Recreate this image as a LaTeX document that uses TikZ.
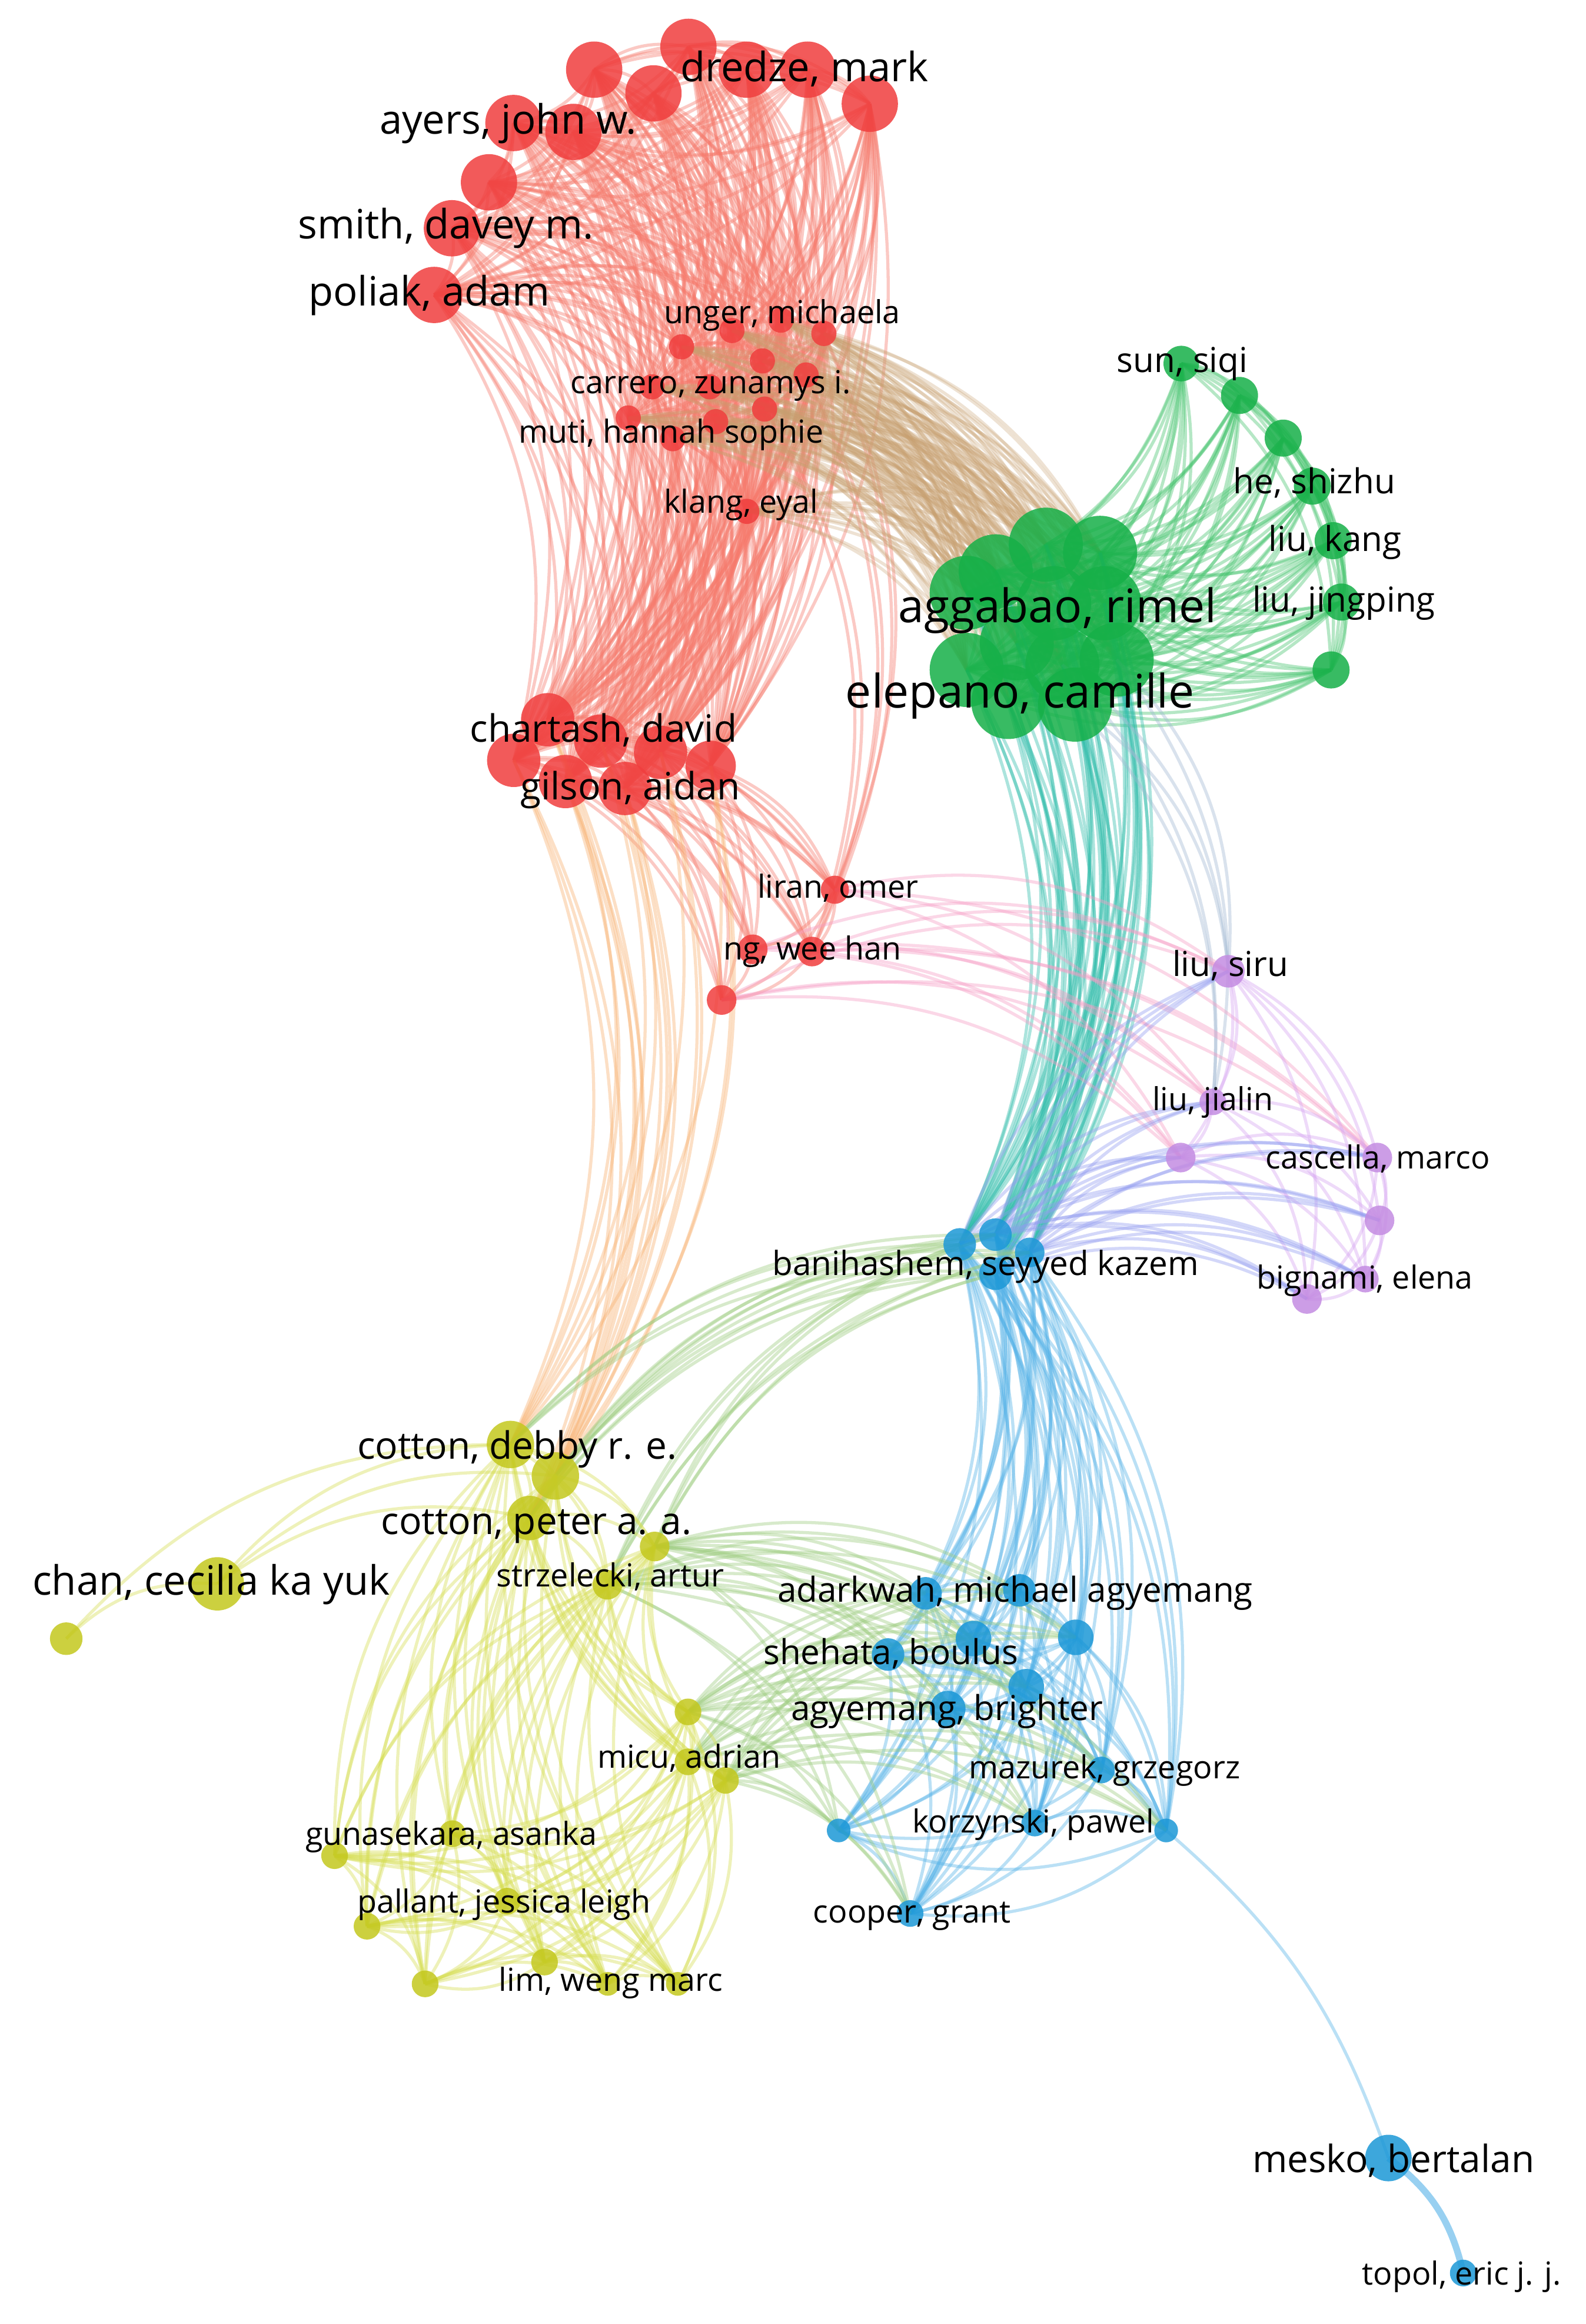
\documentclass[tikz,border=0pt]{standalone}
\usepackage{fontspec}
\setmainfont{Open Sans}
\pgfdeclarelayer{edgelayer}
\pgfsetlayers{edgelayer,main}
\definecolor{redN}{RGB}{240,62,62}
\definecolor{redE}{RGB}{246,122,108}
\definecolor{greenN}{RGB}{22,176,72}
\definecolor{greenE}{RGB}{70,196,110}
\definecolor{blueN}{RGB}{28,152,215}
\definecolor{blueE}{RGB}{84,178,232}
\definecolor{yellowN}{RGB}{196,200,30}
\definecolor{yellowE}{RGB}{214,222,80}
\definecolor{purpleN}{RGB}{196,140,226}
\definecolor{purpleE}{RGB}{214,164,242}
\definecolor{rgE}{RGB}{200,160,112}
\definecolor{gbE}{RGB}{46,188,170}
\definecolor{ryE}{RGB}{248,176,110}
\definecolor{rpE}{RGB}{246,156,196}
\definecolor{bpE}{RGB}{146,156,240}
\definecolor{ybE}{RGB}{156,204,126}
\definecolor{gpE}{RGB}{160,184,210}
\newcommand\lfA{\fontsize{21.4}{24}\selectfont}
\newcommand\lfB{\fontsize{23.2}{26}\selectfont}
\newcommand\lfBb{\fontsize{22.5}{25}\selectfont}
\newcommand\lfC{\fontsize{25.4}{28}\selectfont}
\newcommand\lfD{\fontsize{27.3}{30}\selectfont}
\newcommand\lfE{\fontsize{31.2}{34}\selectfont}
\newcommand\mkedges[3]{\foreach \na in #1{\foreach \nb in #2{\draw[edg,#3] (\na.center) to[bend left=24] (\nb.center);}}}
\newcommand\mkclique[2]{\foreach \na [count=\ci] in #1{\foreach \nb [count=\cj] in #1{\ifnum\cj>\ci\relax\draw[edg,#2] (\na.center) to[bend left=24] (\nb.center);\fi}}}
\def\RL{r1,r2,r3,r4,r5,r6,r7,r8,r9,r10,r11}
\def\SL{s1,s2,s3,s4,s5,s6,s7,s8,s9,s10,s11,s12,s13}
\def\CL{c1,c2,c3,c4,c5,c6,c7}
\def\LL{l1,l2,l3,l4}
\def\GL{G1,G2,G3,G4,G5,G6,G7,G8,G9,G10,G11,G12}
\def\gL{g1,g2,g3,g4,g5,g6,g7}
\def\PL{p1,p2,p3,p4,p5,p6,p7}
\def\BL{b1,b2,b3,b4}
\def\QL{q1,q2,q3,q4,q5,q6,q7,q8,q9,q10,q11,q12}
\def\YL{y1,y2,y3,y4,y5}
\def\WL{w1,w2,w3,w4,w5,w6,w7,w8,w9,w10,w11}
\tikzset{
  edg/.style={line width=2.1pt, draw opacity=0.4},
  nd/.style={circle, inner sep=0pt, draw=none, fill opacity=0.85},
  lab/.style={anchor=base west, inner sep=0pt, text=black}
}
\begin{document}
\begin{tikzpicture}[x=1pt,y=-1pt]
\useasboundingbox (0,0) rectangle (1070,1568);
% ---------------- nodes ----------------
\foreach \nn/\xx/\yy/\rr in {r1/401/47/19,r2/464.6/31.6/19,r3/441/63/19,r4/504/47/19,r5/545/47/19,r6/587/70/19,r7/346.5/83/19,r8/387/89/19,r9/330/123/19,r10/305/154/19,r11/293/199/19,
 s1/494/223/8.5,s2/527/216/8.5,s3/556/225/8.5,s4/460/234/8.5,s5/514.5/243.5/8.5,s6/544/253/8.5,s7/440/261/8.5,s8/479/261/8.5,s9/516/276/8.5,s10/424/282/8.5,s11/483/284.5/8.5,s12/454/296/8.5,s13/504/345/8.5,
 c1/369.6/485.6/18,c2/346.7/513/18,c3/405.5/500/18,c4/445.8/507.6/18,c5/479.6/516.7/17,c6/381.6/527.3/18,c7/421.8/532/18,
 l1/563.4/600.3/9.5,l2/508/640.5/10,l3/548/642/10,l4/487/674.7/10}
  \node[nd, fill=redN, minimum size=\rr*2pt] (\nn) at (\xx,\yy) {};
\foreach \nn/\xx/\yy/\rr in {G1/705.8/367.5/25,G2/742.4/373/25,G3/672/385.5/25,G4/711.4/407/25,G5/745.2/407/25,G6/652.4/400/25,G7/686.2/434/25,G8/652.4/452/25,G9/717/448.5/25,G10/753.6/445/25,G11/680.5/473.6/25,G12/725.5/475.4/25,
 g1/797.2/245.3/12,g2/836.5/266.8/12.5,g3/866/295.6/12.5,g4/885.7/328/12.5,g5/899.7/364.8/12.5,g6/905.3/406.2/12.5,g7/898.3/452/12.5}
  \node[nd, fill=greenN, minimum size=\rr*2pt] (\nn) at (\xx,\yy) {};
\foreach \nn/\xx/\yy/\rr in {p1/829/655.3/11,p2/818.5/743.4/9,p3/796.8/781/10,p4/929.5/781/10,p5/931/823.4/10,p6/921.4/863/9,p7/882/876.4/10}
  \node[nd, fill=purpleN, minimum size=\rr*2pt] (\nn) at (\xx,\yy) {};
\foreach \nn/\xx/\yy/\rr in {b1/647.7/839.6/11,b2/671.8/833/11,b3/694.9/845/10,b4/671.8/859.4/11,
 q1/624.6/1075/11,q2/688/1073/11,q3/726/1104.7/12,q4/657/1105.5/12,q5/599.3/1116.3/11,q6/692.6/1138/12,q7/639.6/1152.8/12,q8/743.3/1194.2/9,q9/698.3/1230/9,q10/787/1235/8,q11/566/1235/8,q12/614.2/1291/9,
 m1/937/1456/15.7,m2/987.5/1533.6/9}
  \node[nd, fill=blueN, minimum size=\rr*2pt] (\nn) at (\xx,\yy) {};
\foreach \nn/\xx/\yy/\rr in {y1/344.5/974.6/16,y2/374.8/995.8/16,y3/357.3/1024.2/15,y4/441.8/1043.4/10,y5/409.9/1069.2/10,ch/146.7/1068.6/18,y0/44.7/1105.6/11,
 w1/464.3/1155/9,w2/464.3/1188.7/9,w3/489.6/1201.2/9,w4/305.3/1237.2/9,w5/225.8/1252/9,w6/342.2/1282.7/9,w7/247.7/1299.6/9,w8/367.5/1323.8/9,w9/286.9/1338.5/9,w10/410.2/1338.5/8,w11/457.4/1338.5/8}
  \node[nd, fill=yellowN, minimum size=\rr*2pt] (\nn) at (\xx,\yy) {};
% ---------------- edges ----------------
\begin{pgfonlayer}{edgelayer}
\fill[white] (0,0) rectangle (1070,1568);
% red
\mkclique{\RL}{redE}
\mkedges{\RL}{\SL}{redE}
\mkclique{\SL}{redE}
\mkedges{\RL}{\CL}{redE}
\mkedges{\SL}{\CL}{redE}
\mkclique{\CL}{redE}
\mkedges{\CL}{\LL}{redE}
\mkclique{\LL}{redE}
\mkedges{{s3,s6,s9}}{{l1,l3}}{redE}
% red-green
\mkedges{\SL}{\GL}{rgE,draw opacity=0.3}
% green
\mkclique{\GL}{greenE}
\mkedges{\gL}{\GL}{greenE}
\mkclique{\gL}{greenE}
% green-blue, green-purple
\mkedges{\GL}{\BL}{gbE}
\mkedges{{G9,G10,G12}}{{p1,p2}}{gpE}
% red-yellow, red-purple
\mkedges{\CL}{{y1,y2,y3}}{ryE}
\mkedges{\LL}{{p1,p2,p3,p4}}{rpE}
% purple
\mkclique{\PL}{purpleE}
\mkedges{\BL}{\PL}{bpE}
% blue
\mkclique{\BL}{blueE}
\mkedges{\BL}{\QL}{blueE}
\mkclique{\QL}{blueE}
% yellow-blue
\mkedges{\YL}{\BL}{ybE}
\mkedges{{y4,y5,w1,w2,w3}}{\QL}{ybE}
% yellow
\mkclique{\YL}{yellowE}
\mkedges{{ch}}{{y1,y2,y3}}{yellowE}
\mkedges{{y0}}{{ch,y1}}{yellowE}
\mkedges{\WL}{\YL}{yellowE}
\mkclique{\WL}{yellowE}
% mesko
\draw[edg,blueE] (q10.center) to[bend left=15] (m1.center);
\draw[edg,blueE,line width=4.5pt,draw opacity=0.6] (m1.center) to[bend left=20] (m2.center);
\end{pgfonlayer}
% ---------------- labels ----------------
\node[lab, font=\lfD] (t1) at (459,55.2) {dredze, mark};
\node[lab, font=\lfD] (t2) at (256,90.2) {ayers, john w.};
\node[lab, font=\lfD] (t3) at (201,161.2) {smith, davey m.};
\node[lab, font=\lfD] (t4) at (208,206.2) {poliak, adam};
\node[lab, font=\lfA] (t5) at (448,218.4) {unger, michaela};
\node[lab, font=\lfA] (t6) at (385,265.4) {carrero, zunamys i.};
\node[lab, font=\lfA] (t7) at (350,299) {muti, hannah sophie};
\node[lab, font=\lfA] (t8) at (448,346) {klang, eyal};
\node[lab, font=\lfB] (t9) at (753.6,251.4) {sun, siqi};
\node[lab, font=\lfB] (t10) at (832,333) {he, shizhu};
\node[lab, font=\lfB] (t11) at (856,372) {liu, kang};
\node[lab, font=\lfB] (t12) at (845,413) {liu, jingping};
\node[lab, font=\lfE] (t13) at (606,420) {aggabao, rimel};
\node[lab, font=\lfE] (t14) at (570.5,477.4) {elepano, camille};
\node[lab, font=\lfC] (t15) at (317,500.6) {chartash, david};
\node[lab, font=\lfC] (t16) at (351,539.6) {gilson, aidan};
\node[lab, font=\lfA] (t17) at (511,606) {liran, omer};
\node[lab, font=\lfA] (t18) at (488,647.4) {ng, wee han};
\node[lab, font=\lfB] (t19) at (791,658.6) {liu, siru};
\node[lab, font=\lfA] (t20) at (777.5,749.4) {liu, jialin};
\node[lab, font=\lfA] (t21) at (854,788.4) {cascella, marco};
\node[lab, font=\lfA] (t22) at (848,869.4) {bignami, elena};
\node[lab, font=\lfBb] (t23) at (521,860.3) {banihashem, seyyed kazem};
\node[lab, font=\lfC] (t24) at (241,984.2) {cotton, debby r. e.};
\node[lab, font=\lfC] (t25) at (257,1035.1) {cotton, peter a. a.};
\node[lab, font=\lfD] (t26) at (21.7,1076.2) {chan, cecilia ka yuk};
\node[lab, font=\lfA] (t27) at (335,1070.4) {strzelecki, artur};
\node[lab, font=\lfB] (t28) at (524.5,1081) {adarkwah, michael agyemang};
\node[lab, font=\lfB] (t29) at (515,1123) {shehata, boulus};
\node[lab, font=\lfB] (t30) at (533.6,1160.7) {agyemang, brighter};
\node[lab, font=\lfA] (t31) at (653.6,1199.9) {mazurek, grzegorz};
\node[lab, font=\lfA] (t32) at (615.5,1236.4) {korzynski, pawel};
\node[lab, font=\lfA] (t33) at (548.6,1297.4) {cooper, grant};
\node[lab, font=\lfA] (t34) at (403,1193) {micu, adrian};
\node[lab, font=\lfA] (t35) at (206,1245) {gunasekara, asanka};
\node[lab, font=\lfA] (t36) at (241,1290.4) {pallant, jessica leigh};
\node[lab, font=\lfA] (t37) at (336.5,1343.4) {lim, weng marc};
\node[lab, font=\lfC] (t38) at (845,1465.6) {mesko, bertalan};
\node[lab, font=\lfA] (t39) at (919,1541.5) {topol, eric j. j.};
\end{tikzpicture}
\end{document}
